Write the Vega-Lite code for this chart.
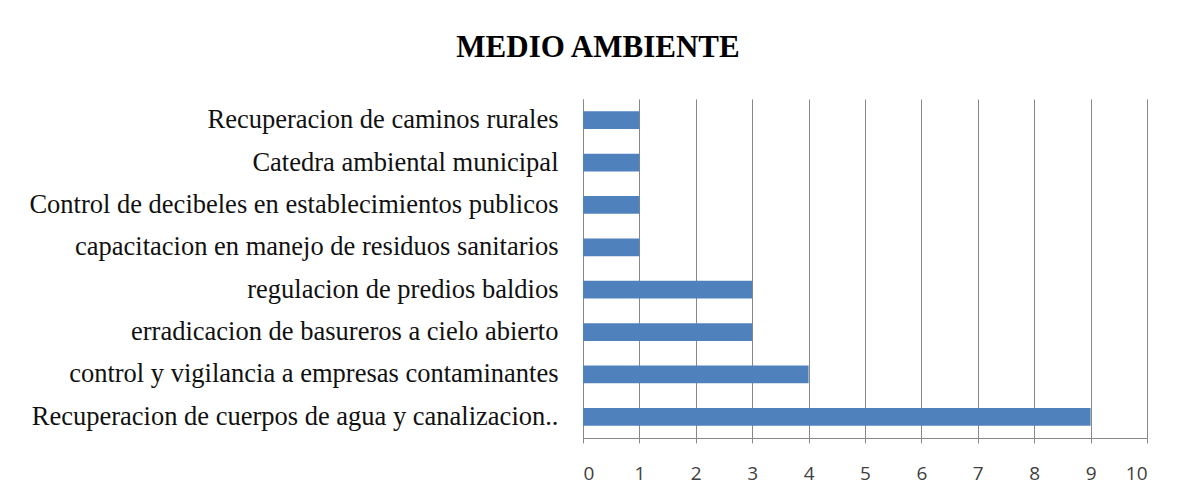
{
  "$schema": "https://vega.github.io/schema/vega-lite/v6.json",
  "autosize": {"type": "none"},
  "padding": {"left": 583, "top": 99, "right": 39, "bottom": 64},
  "width": 564,
  "height": 339,
  "background": "white",
  "title": {
    "text": "MEDIO AMBIENTE",
    "font": "Liberation Serif",
    "fontSize": 31,
    "fontWeight": "bold",
    "color": "#000000",
    "anchor": "middle",
    "frame": "group",
    "dx": -267,
    "dy": 30,
    "baseline": "alphabetic",
    "offset": 41
  },
  "data": {
    "values": [
      {"tema": "Recuperacion de caminos rurales", "valor": 1},
      {"tema": "Catedra ambiental municipal", "valor": 1},
      {"tema": "Control de decibeles en establecimientos publicos", "valor": 1},
      {"tema": "capacitacion en manejo de residuos sanitarios", "valor": 1},
      {"tema": "regulacion de predios baldios", "valor": 3},
      {"tema": "erradicacion de basureros a cielo abierto", "valor": 3},
      {"tema": "control y vigilancia a empresas contaminantes", "valor": 4},
      {"tema": "Recuperacion de cuerpos de agua y canalizacion..", "valor": 9}
    ]
  },
  "mark": {"type": "bar", "color": "#4F81BD"},
  "encoding": {
    "y": {
      "field": "tema",
      "type": "nominal",
      "sort": null,
      "title": null,
      "scale": {"paddingInner": 0.58, "paddingOuter": 0.29},
      "axis": {
        "labelFont": "Liberation Serif",
        "labelFontSize": 26.5,
        "labelColor": "#111111",
        "labelPadding": 25,
        "labelLimit": 600,
        "ticks": false,
        "domainColor": "#888888",
        "grid": false
      }
    },
    "x": {
      "field": "valor",
      "type": "quantitative",
      "title": null,
      "scale": {"domain": [0, 10], "nice": false},
      "axis": {
        "values": [0, 1, 2, 3, 4, 5, 6, 7, 8, 9, 10],
        "labelFont": "Open Sans",
        "labelFontSize": 19,
        "labelColor": "#404040",
        "labelPadding": 21,
        "tickSize": 5,
        "tickColor": "#888888",
        "domainColor": "#888888",
        "gridColor": "#888888",
        "gridOpacity": 1,
        "grid": true
      }
    }
  },
  "config": {"view": {"stroke": null}}
}
